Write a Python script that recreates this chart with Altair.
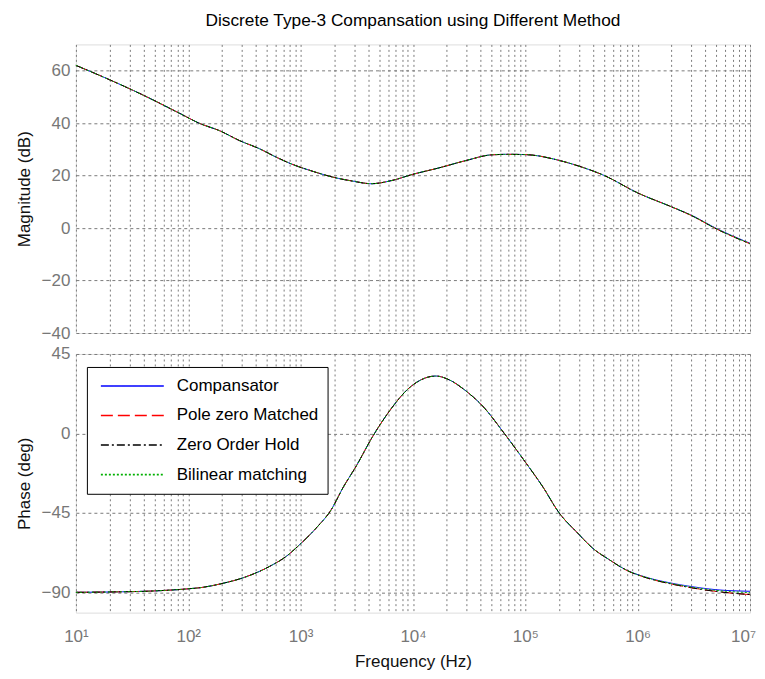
import altair as alt
import pandas as pd

# ---- data ----
series = ["Compansator", "Pole zero Matched", "Zero Order Hold", "Bilinear matching"]
colors = ["#0000ff", "#ff0000", "#000000", "#00b000"]
dashes = [[1, 0], [12, 5], [8, 3, 2, 3], [2, 2]]

freq_mag = [10, 20, 40, 84, 126, 190, 287, 432, 608, 855, 1290, 1940, 2900, 4250, 6600,
            10000, 16600, 30000, 50000, 70000, 100000, 200000, 300000, 500000,
            1000000, 2000000, 3000000, 5000000, 10000000]
mag_comp = [62.0, 56.5, 50.6, 43.7, 39.9, 37.1, 33.3, 30.2, 27.0, 24.2, 21.6, 19.4, 17.9, 16.9, 18.2,
            20.5, 22.8, 25.8, 27.9, 28.1, 28.0, 25.8, 23.6, 20.1,
            13.4, 8.1, 4.9, -0.1, -5.8]
mag_pzm = [62.0, 56.5, 50.6, 43.7, 39.9, 37.1, 33.3, 30.2, 27.0, 24.2, 21.6, 19.4, 17.9, 16.9, 18.2,
           20.5, 22.8, 25.8, 27.9, 28.1, 28.0, 25.8, 23.6, 20.1,
           13.4, 8.1, 4.8, -0.3, -6.0]
mag_zoh = [62.0, 56.5, 50.6, 43.7, 39.9, 37.1, 33.3, 30.2, 27.0, 24.2, 21.6, 19.4, 17.9, 16.9, 18.2,
           20.5, 22.8, 25.8, 27.9, 28.1, 28.0, 25.8, 23.6, 20.1,
           13.4, 8.1, 4.8, -0.3, -6.0]
mag_bil = [62.0, 56.5, 50.6, 43.7, 39.9, 37.1, 33.3, 30.2, 27.0, 24.2, 21.6, 19.4, 17.9, 16.9, 18.2,
           20.5, 22.8, 25.8, 27.9, 28.1, 28.0, 25.8, 23.6, 20.1,
           13.4, 8.1, 4.9, -0.2, -5.9]

freq_ph = [10, 20, 50, 100, 130, 200, 300, 530, 746, 980, 1380, 1877, 2380, 3125, 4400, 6180,
           9300, 16000, 21100, 29700, 41700, 65000, 101000, 142000, 200000, 292000, 396000,
           558000, 785000, 1260000, 2000000, 3000000, 5000000, 10000000]
ph_comp = [-90.0, -89.8, -89.2, -88.0, -87.3, -85.0, -82.0, -75.3, -69.6, -63.0, -53.5, -43.1,
           -30.8, -18.5, -1.5, 12.7, 25.9, 32.5, 30.3, 24.0, 15.5, 0.0, -16.6, -29.9, -45.0,
           -56.4, -64.9, -71.5, -77.2, -81.9, -84.8, -86.7, -88.5, -89.4]
ph_pzm = [-90.0, -89.8, -89.2, -88.0, -87.3, -85.0, -82.0, -75.3, -69.6, -63.0, -53.5, -43.1,
          -30.8, -18.5, -1.5, 12.7, 25.9, 32.5, 30.3, 24.0, 15.5, 0.0, -16.6, -29.9, -45.0,
          -56.4, -64.9, -71.5, -77.3, -82.2, -85.3, -87.4, -89.5, -91.3]
ph_zoh = [-90.0, -89.8, -89.2, -88.0, -87.3, -85.0, -82.0, -75.3, -69.6, -63.0, -53.5, -43.1,
          -30.8, -18.5, -1.5, 12.7, 25.9, 32.5, 30.3, 24.0, 15.5, 0.0, -16.6, -29.9, -45.0,
          -56.4, -64.9, -71.5, -77.3, -82.2, -85.3, -87.4, -89.5, -91.3]
ph_bil = [-90.0, -89.8, -89.2, -88.0, -87.3, -85.0, -82.0, -75.3, -69.6, -63.0, -53.5, -43.1,
          -30.8, -18.5, -1.5, 12.7, 25.9, 32.5, 30.3, 24.0, 15.5, 0.0, -16.6, -29.9, -45.0,
          -56.4, -64.9, -71.5, -77.2, -82.0, -85.0, -87.0, -88.9, -90.2]

x_grid = [m * 10 ** e for e in range(1, 7) for m in range(1, 10)] + [10 ** 7]

mag_rows, ph_rows = [], []
for k, (name, mg, ph) in enumerate(zip(series, [mag_comp, mag_pzm, mag_zoh, mag_bil],
                                       [ph_comp, ph_pzm, ph_zoh, ph_bil])):
    for f, v in zip(freq_mag, mg):
        mag_rows.append({"f": f, "mag": v, "method": name, "k": k})
    for f, v in zip(freq_ph, ph):
        ph_rows.append({"f": f, "phase": v, "method": name, "k": k})
df_mag = pd.DataFrame(mag_rows)
df_ph = pd.DataFrame(ph_rows)

FONT = "Liberation Sans"
sup_expr = ("abs(log(datum.value)/LN10 - round(log(datum.value)/LN10)) < 1e-6 ? "
            "'10' + ['⁰','¹','²','³','⁴','⁵','⁶','⁷'][round(log(datum.value)/LN10)] : ''")

xscale = alt.Scale(type="log", domain=[10, 1e7], nice=False)

color_enc = alt.Color("method:N", sort=series, scale=alt.Scale(domain=series, range=colors))
dash_enc = alt.StrokeDash("method:N", sort=series, scale=alt.Scale(domain=series, range=dashes))

GRID = "#7a7a7a"
common_y_axis = dict(grid=True, gridDash=[3, 3], gridColor=GRID, gridOpacity=1,
                     ticks=False, tickSize=0, domain=False, labelFontSize=17,
                     labelColor="#777777", labelFont=FONT, labelPadding=6,
                     titleFont=FONT, titleFontSize=17, titleFontWeight="normal",
                     titleColor="#111111", titlePadding=8)

top = alt.Chart(df_mag).mark_line(strokeWidth=1, interpolate="monotone").encode(
    x=alt.X("f:Q", scale=xscale,
            axis=alt.Axis(values=x_grid, labels=False, title=None, grid=True, gridDash=[2, 3],
                          gridColor=GRID, gridOpacity=1, ticks=False, domain=False)),
    y=alt.Y("mag:Q", scale=alt.Scale(domain=[-40, 70], nice=False, zero=False),
            axis=alt.Axis(values=[-40, -20, 0, 20, 40, 60], title="Magnitude (dB)", **common_y_axis)),
    color=color_enc.legend(None),
    strokeDash=dash_enc.legend(None),
    order=alt.Order("k:Q"),
).properties(
    width=675, height=289,
    title=alt.TitleParams("Discrete Type-3 Compansation using Different Method",
                          font=FONT, fontSize=17.3, fontWeight="normal", color="#000000",
                          anchor="middle", frame="group", offset=15),
)

legend_opts = dict(
    title=None, orient="none", legendX=11, legendY=13,
    strokeColor="#000000", fillColor="#ffffff", padding=9, cornerRadius=0,
    symbolType="stroke", symbolSize=3969, symbolStrokeWidth=1.6, symbolOffset=4,
    clipHeight=20, rowPadding=9.6,
    labelFont=FONT, labelFontSize=17, labelColor="#000000", labelOffset=12, labelLimit=300)

bottom = alt.Chart(df_ph).mark_line(strokeWidth=1, interpolate="monotone").encode(
    x=alt.X("f:Q", scale=xscale,
            axis=alt.Axis(values=x_grid, labelExpr=sup_expr, labelOverlap=False, labelFlush=False,
                          labelBound=False,
                          labelOffset=alt.condition("datum.value > 9000000", alt.value(-7), alt.value(0)),
                          title="Frequency  (Hz)", grid=True, gridDash=[2, 3],
                          gridColor=GRID, gridOpacity=1, ticks=False, tickSize=0,
                          domain=False, labelFontSize=17, labelColor="#777777", labelFont=FONT,
                          labelPadding=16, titleFont=FONT, titleFontSize=17,
                          titleFontWeight="normal", titleColor="#111111", titlePadding=9)),
    y=alt.Y("phase:Q", scale=alt.Scale(domain=[-101.5, 45], nice=False, zero=False),
            axis=alt.Axis(values=[-90, -45, 0, 45], title="Phase (deg)", **common_y_axis)),
    color=color_enc.legend(alt.Legend(**legend_opts)),
    strokeDash=dash_enc.legend(alt.Legend(**legend_opts)),
    order=alt.Order("k:Q"),
).properties(width=675, height=259)

chart = alt.vconcat(top, bottom, spacing=21, bounds="flush").resolve_legend(
    color="independent", strokeDash="independent"
).configure_view(stroke="#555555", strokeWidth=1.2).configure(
    background="#ffffff", padding={"left": 6, "top": 3, "right": 0, "bottom": 0}
)

chart.save("out.html", embed_options={"renderer": "svg", "actions": False})
